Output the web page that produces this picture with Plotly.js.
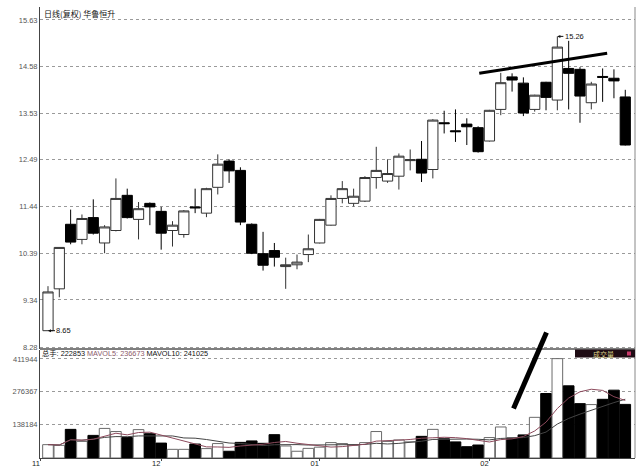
<!DOCTYPE html>
<html>
<head>
<meta charset="utf-8">
<script src="https://cdn.plot.ly/plotly-3.0.1.min.js"></script>
<style>html,body{margin:0;padding:0;background:#fff;}#chart{width:640px;height:471px;}</style>
</head>
<body>
<div id="chart"></div>
<script>
// ---- data ----
const idx = Array.from({length: 52}, (_, i) => i);
const openP  = [8.65, 9.59, 11.04, 10.70, 11.19, 10.62, 10.90, 11.69, 11.15, 11.51,
                11.33, 10.90, 10.81, 11.43, 11.29, 11.87, 12.46, 12.25, 11.04, 10.38,
                10.45, 10.09, 10.13, 10.36, 10.62, 11.02, 11.62, 11.51, 11.56, 12.09,
                12.01, 12.12, 12.47, 12.50, 12.27, 13.32, 13.14, 13.29, 13.21, 12.91,
                13.62, 14.35, 14.21, 13.62, 14.23, 13.83, 14.54, 14.52, 13.77, 14.36,
                14.32, 13.90];
const highP  = [9.65, 10.52, 11.37, 11.26, 11.60, 11.02, 12.07, 11.84, 11.54, 11.53,
                11.43, 11.11, 11.36, 11.84, 11.86, 12.61, 12.50, 12.32, 11.06, 10.87,
                10.62, 10.29, 10.36, 10.81, 11.16, 11.69, 12.01, 11.84, 12.12, 12.78,
                12.50, 12.63, 12.72, 12.91, 13.40, 13.59, 13.62, 13.42, 13.24, 13.61,
                14.44, 14.43, 14.34, 13.95, 14.24, 15.26, 15.16, 14.57, 14.24, 14.54,
                14.52, 14.06];
const lowP   = [8.65, 9.40, 10.59, 10.59, 10.81, 10.39, 10.88, 11.17, 10.70, 11.02,
                10.47, 10.54, 10.74, 11.29, 11.20, 11.71, 11.97, 11.02, 10.37, 10.00,
                10.09, 9.59, 10.03, 10.19, 10.61, 11.01, 11.51, 11.44, 11.54, 11.84,
                11.97, 11.82, 12.25, 11.99, 12.07, 13.08, 12.89, 12.82, 12.65, 12.90,
                13.49, 14.02, 13.47, 13.57, 13.60, 13.60, 13.62, 13.32, 13.62, 13.79,
                13.87, 12.81];
const closeP = [9.52, 10.52, 10.64, 11.17, 10.84, 10.98, 11.62, 11.19, 11.39, 11.43,
                10.84, 11.02, 11.34, 11.41, 11.84, 12.39, 12.24, 11.09, 10.39, 10.12,
                10.30, 10.13, 10.19, 10.49, 11.15, 11.62, 11.84, 11.67, 12.09, 12.25,
                12.18, 12.57, 12.49, 12.19, 13.38, 13.30, 13.12, 13.23, 12.67, 13.60,
                14.22, 14.28, 13.54, 13.94, 13.89, 15.02, 14.43, 13.92, 14.19, 14.34,
                14.26, 12.82];
const volume = [55500, 52700, 119000, 69000, 94000, 123000, 110000, 85000, 118000, 101000,
                62000, 36000, 36000, 58000, 39000, 60000, 28000, 65000, 71000, 61000,
                97000, 50000, 28000, 40000, 45000, 64000, 60000, 53000, 64000, 110000,
                69000, 75000, 67000, 90000, 119000, 80000, 67000, 47000, 54000, 85000,
                129000, 83000, 96000, 169000, 268000, 413000, 300000, 226000, 222000, 244000,
                282000, 222853];
const monthTickIdx = [-0.62, 10, 24, 39];
const monthTickText = ['11', '12', '01', '02'];
const priceTicks = [8.28, 9.34, 10.39, 11.44, 12.49, 13.53, 14.58, 15.63];
const volTicks = [138184, 276367, 411944];
const titleText = '日线(复权) 华鲁恒升';
const volLabel = {total: 222853, mavol5: 236673, mavol10: 241025};
const lowMark = {i: 0, v: 8.65};
const highMark = {i: 45, v: 15.26};
const trendIdx = [38.1, 49.4];
const trendPrice = [14.43, 14.88];

// ---- derived ----
function ma(arr, n) {
  return arr.map((_, i) => {
    const s = Math.max(0, i - n + 1);
    const w = arr.slice(s, i + 1);
    return w.reduce((a, b) => a + b, 0) / w.length;
  });
}
const up = closeP.map((c, i) => c >= openP[i]);
const volFill = up.map(u => u ? '#ffffff' : '#000000');
const volLine = up.map(u => u ? '#6a6a6a' : '#000000');

const traces = [
  {
    type: 'candlestick', x: idx, open: openP, high: highP, low: lowP, close: closeP,
    xaxis: 'x', yaxis: 'y',
    increasing: {line: {color: '#333333', width: 1}, fillcolor: '#ffffff'},
    decreasing: {line: {color: '#000000', width: 1}, fillcolor: '#000000'},
    whiskerwidth: 0, hoverinfo: 'skip', showlegend: false
  },
  {
    type: 'bar', x: idx, y: volume, xaxis: 'x', yaxis: 'y2',
    marker: {color: volFill, line: {color: volLine, width: 1}},
    hoverinfo: 'skip', showlegend: false
  },
  {
    type: 'scatter', mode: 'lines', x: idx, y: ma(volume, 10), xaxis: 'x', yaxis: 'y2',
    line: {color: '#444444', width: 1}, hoverinfo: 'skip', showlegend: false
  },
  {
    type: 'scatter', mode: 'lines', x: idx, y: ma(volume, 5), xaxis: 'x', yaxis: 'y2',
    line: {color: '#8c4a5c', width: 1}, hoverinfo: 'skip', showlegend: false
  }
];

const H = 451, W = 595, L = 40, T = 7;
const py = yy => (T + H - yy) / H;   // pixel y -> paper
const px = xx => (xx - L) / W;       // pixel x -> paper

const layout = {
  width: 640, height: 471,
  margin: {l: 40, r: 5, t: 7, b: 13, pad: 0},
  paper_bgcolor: '#ffffff', plot_bgcolor: '#ffffff',
  font: {family: 'Liberation Sans, Arial, sans-serif', size: 7.5, color: '#444'},
  showlegend: false, hovermode: false,
  boxgap: 0.05, boxgroupgap: 0.05, bargap: 0.06,
  xaxis: {
    type: 'linear', range: [-0.706, 51.86], anchor: 'y2',
    showgrid: false, zeroline: false, showline: true, linecolor: '#444', linewidth: 1,
    tickmode: 'array', tickvals: monthTickIdx, ticktext: monthTickText,
    ticks: 'outside', ticklen: 2, tickcolor: '#444', ticklabelshift: -5, ticklabelstandoff: -4,
    tickfont: {size: 7.5, color: '#222'},
    rangeslider: {visible: false}, fixedrange: true
  },
  yaxis: {
    domain: [py(348.5), 1], range: [8.25, 15.92],
    tickmode: 'array', tickvals: priceTicks, ticktext: priceTicks.map(v => v.toFixed(2)),
    showgrid: true, gridcolor: '#9a9a9a', griddash: 'dot', gridwidth: 1,
    zeroline: false, showline: true, linecolor: '#444', linewidth: 1,
    ticks: '', tickfont: {size: 7.5, color: '#555'}, fixedrange: true
  },
  yaxis2: {
    domain: [0, py(349.5)], range: [0, 451000],
    tickmode: 'array', tickvals: volTicks, ticktext: volTicks.map(String),
    showgrid: true, gridcolor: '#9a9a9a', griddash: 'dot', gridwidth: 1,
    zeroline: false, showline: true, linecolor: '#444', linewidth: 1,
    ticks: '', tickfont: {size: 7.5, color: '#555'}, fixedrange: true
  },
  shapes: [
    {type: 'line', xref: 'paper', yref: 'paper', x0: 0, x1: 1, y0: py(349), y1: py(349),
     line: {color: '#555', width: 1.5}},
    {type: 'line', xref: 'paper', yref: 'paper', x0: 1, x1: 1, y0: 0, y1: 1,
     line: {color: '#888', width: 1}},
    {type: 'line', xref: 'x', yref: 'y', x0: trendIdx[0], x1: trendIdx[1],
     y0: trendPrice[0], y1: trendPrice[1], line: {color: '#000', width: 3}},
    {type: 'line', xref: 'paper', yref: 'paper', x0: px(513.5), x1: px(546.5),
     y0: py(408.5), y1: py(332.5), line: {color: '#000', width: 5}},
    {type: 'rect', xref: 'paper', yref: 'paper', x0: px(575), x1: 1, y0: py(357.5), y1: py(349.5),
     fillcolor: '#1e0c14', line: {width: 0}},
    {type: 'rect', xref: 'paper', yref: 'paper', x0: px(627), x1: px(631), y0: py(355.5), y1: py(351.5),
     fillcolor: '#c8386a', line: {width: 0}}
  ],
  annotations: [
    {xref: 'paper', yref: 'paper', x: px(41.5), y: py(13.3), xanchor: 'left', yanchor: 'middle',
     text: titleText, showarrow: false,
     font: {family: 'Noto Sans CJK SC', size: 8, color: '#111'}},
    {xref: 'paper', yref: 'paper', x: px(39.5), y: py(353.6), xanchor: 'left', yanchor: 'middle',
     text: '总手: ' + volLabel.total + ' <span style="color:#8c5a6a">MAVOL5: ' + volLabel.mavol5 +
           '</span> MAVOL10: ' + volLabel.mavol10,
     showarrow: false, font: {family: 'Liberation Sans, Noto Sans CJK SC', size: 7.3, color: '#111'}},
    {xref: 'paper', yref: 'paper', x: px(603), y: py(353.5), xanchor: 'center', yanchor: 'middle',
     text: '成交量', showarrow: false,
     font: {family: 'Noto Sans CJK SC', size: 7, color: '#ddd48a'}},
    {xref: 'x', yref: 'y', x: lowMark.i, y: lowMark.v, text: lowMark.v.toFixed(2),
     showarrow: true, ax: 16, ay: 0, arrowhead: 2, arrowsize: 0.6, arrowwidth: 1,
     arrowcolor: '#111', standoff: 0, font: {size: 7.5, color: '#111'}},
    {xref: 'x', yref: 'y', x: highMark.i, y: highMark.v, text: highMark.v.toFixed(2),
     showarrow: true, ax: 17, ay: 0, arrowhead: 2, arrowsize: 0.6, arrowwidth: 1,
     arrowcolor: '#111', standoff: 0, font: {size: 7.5, color: '#111'}}
  ]
};

Plotly.newPlot('chart', traces, layout, {staticPlot: true, displayModeBar: false});
</script>
</body>
</html>
